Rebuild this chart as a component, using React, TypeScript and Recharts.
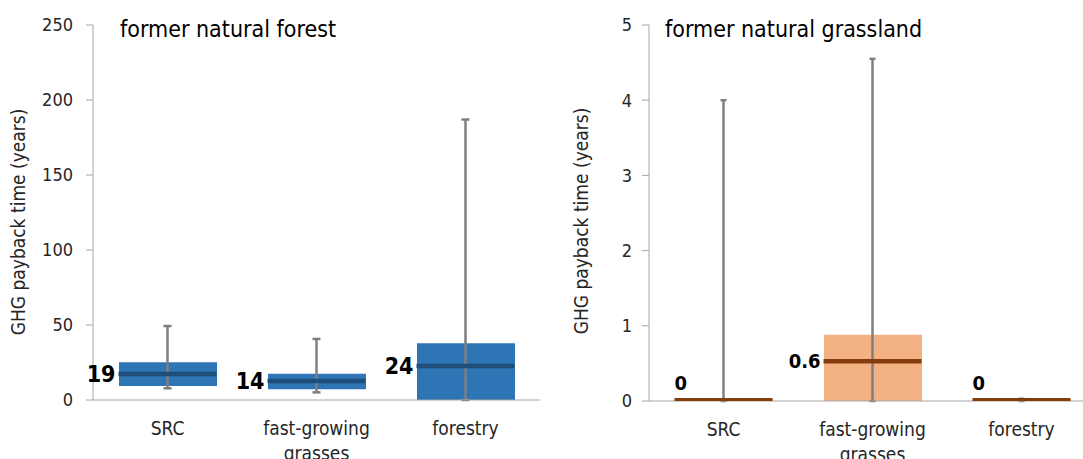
import React from 'react';
import { ComposedChart, Bar, Scatter, ErrorBar, XAxis, YAxis, Text } from 'recharts';

const categories = ['SRC', 'fast-growing grasses', 'forestry'];

// former natural forest, GHG payback time in years
const forestQ1 = [9.3, 7.1, 0];
const forestQ3 = [25.1, 17.5, 37.8];
const forestMedian = [17.3, 12.7, 22.7];
const forestMin = [7.8, 5.1, 0];
const forestMax = [49.3, 40.7, 187];
const forestLabels = ['19', '14', '24'];
const forestTicks = [0, 50, 100, 150, 200, 250];

// former natural grassland, GHG payback time in years
const grassQ1 = [0, 0, 0];
const grassQ3 = [0.02, 0.88, 0.02];
const grassMedian = [0.02, 0.53, 0.02];
const grassMin = [0, 0, 0];
const grassMax = [4.0, 4.55, 0.03];
const grassLabels = ['0', '0.6', '0'];
const grassTicks = [0, 1, 2, 3, 4, 5];

const FONT = "'DejaVu Sans Condensed', 'DejaVu Sans', sans-serif";
const BOX_W = 98;
const AXIS_GREY = '#a6a6a6';
const WHISKER_GREY = '#7f7f7f';
const TEXT = '#262626';

function buildRows(q1: number[], q3: number[], med: number[], min: number[], max: number[], labels: string[]) {
  return categories.map((cat, i) => ({
    cat,
    box: [q1[i], q3[i]],
    median: med[i],
    whisker: [med[i] - min[i], max[i] - med[i]],
    label: labels[i],
  }));
}

const forestRows = buildRows(forestQ1, forestQ3, forestMedian, forestMin, forestMax, forestLabels);
const grassRows = buildRows(grassQ1, grassQ3, grassMedian, grassMin, grassMax, grassLabels);

const WrapTick = (props: any) => {
  const { x, y, payload } = props;
  return (
    <Text
      x={x}
      y={y}
      width={125}
      textAnchor="middle"
      verticalAnchor="start"
      lineHeight="1.3em"
      fontSize={19}
      fontFamily={FONT}
      fill={TEXT}
    >
      {payload.value}
    </Text>
  );
};

const medianShape = (color: string, fontSize: number, domainMax: number) => (props: any) => {
  const { cx, cy, payload } = props;
  const half = BOX_W / 2;
  const flat = (payload.box[1] - payload.box[0]) / domainMax < 0.01;
  return (
    <g>
      <line x1={cx - half} x2={cx + half} y1={cy} y2={cy} stroke={color} strokeWidth={flat ? 3 : 4.5} />
      {flat ? (
        <text x={cx - half} y={cy - 9} fontSize={fontSize} fontWeight="bold" fontFamily={FONT} fill="#000">
          {payload.label}
        </text>
      ) : (
        <text
          x={cx - half - 3}
          y={cy + fontSize * 0.36}
          textAnchor="end"
          fontSize={fontSize}
          fontWeight="bold"
          fontFamily={FONT}
          fill="#000"
        >
          {payload.label}
        </text>
      )}
    </g>
  );
};

const emptyShape = () => <g />;

function BoxChart({ rows, ticks, boxColor, medianColor, labelSize, capWidth, xAxisHeight, yAxisWidth, tickGap }: any) {
  const domainMax = ticks[ticks.length - 1];
  return (
    <ComposedChart
      width={yAxisWidth + 447}
      height={459}
      data={rows}
      margin={{ top: 25, right: 0, bottom: 0, left: 0 }}
    >
      <XAxis
        dataKey="cat"
        height={xAxisHeight}
        tickLine={false}
        tickSize={0}
        tickMargin={22}
        axisLine={{ stroke: AXIS_GREY }}
        tick={<WrapTick />}
        interval={0}
      />
      <YAxis
        type="number"
        domain={[0, domainMax]}
        ticks={ticks}
        width={yAxisWidth}
        tickSize={7}
        tickMargin={tickGap}
        axisLine={{ stroke: AXIS_GREY }}
        tickLine={{ stroke: AXIS_GREY }}
        tick={{ fontSize: 18, fontFamily: FONT, fill: TEXT }}
      />
      <Bar dataKey="box" fill={boxColor} barSize={BOX_W} isAnimationActive={false} />
      <Scatter dataKey="median" shape={medianShape(medianColor, labelSize, domainMax)} isAnimationActive={false} />
      <Scatter dataKey="median" shape={emptyShape} isAnimationActive={false}>
        <ErrorBar
          dataKey="whisker"
          direction="y"
          width={capWidth}
          stroke={WHISKER_GREY}
          strokeWidth={2.5}
          isAnimationActive={false}
        />
      </Scatter>
    </ComposedChart>
  );
}

export default function App() {
  return (
    <div
      style={{
        position: 'absolute',
        left: 0,
        top: 0,
        width: 1083,
        height: 459,
        overflow: 'hidden',
        background: '#fff',
      }}
    >
      <div style={{ position: 'absolute', left: 0, top: 0 }}>
        <BoxChart
          rows={forestRows}
          ticks={forestTicks}
          boxColor="#2e75b6"
          medianColor="#1f4e79"
          labelSize={23}
          capWidth={4}
          xAxisHeight={59}
          yAxisWidth={93}
          tickGap={13}
        />
      </div>
      <div style={{ position: 'absolute', left: 560, top: 0 }}>
        <BoxChart
          rows={grassRows}
          ticks={grassTicks}
          boxColor="#f4b183"
          medianColor="#843c0c"
          labelSize={20}
          capWidth={3}
          xAxisHeight={58}
          yAxisWidth={89}
          tickGap={10}
        />
      </div>
      <svg
        width={1083}
        height={459}
        style={{ position: 'absolute', left: 0, top: 0, pointerEvents: 'none' }}
      >
        <text x={120} y={37} fontSize={23} fontFamily={FONT} fill="#000">
          former natural forest
        </text>
        <text x={665} y={37} fontSize={23} fontFamily={FONT} fill="#000">
          former natural grassland
        </text>
        <text
          x={25}
          y={222}
          transform="rotate(-90, 25, 222)"
          textAnchor="middle"
          fontSize={19}
          fontFamily={FONT}
          fill={TEXT}
        >
          GHG payback time (years)
        </text>
        <text
          x={588}
          y={221}
          transform="rotate(-90, 588, 221)"
          textAnchor="middle"
          fontSize={19}
          fontFamily={FONT}
          fill={TEXT}
        >
          GHG payback time (years)
        </text>
      </svg>
    </div>
  );
}
